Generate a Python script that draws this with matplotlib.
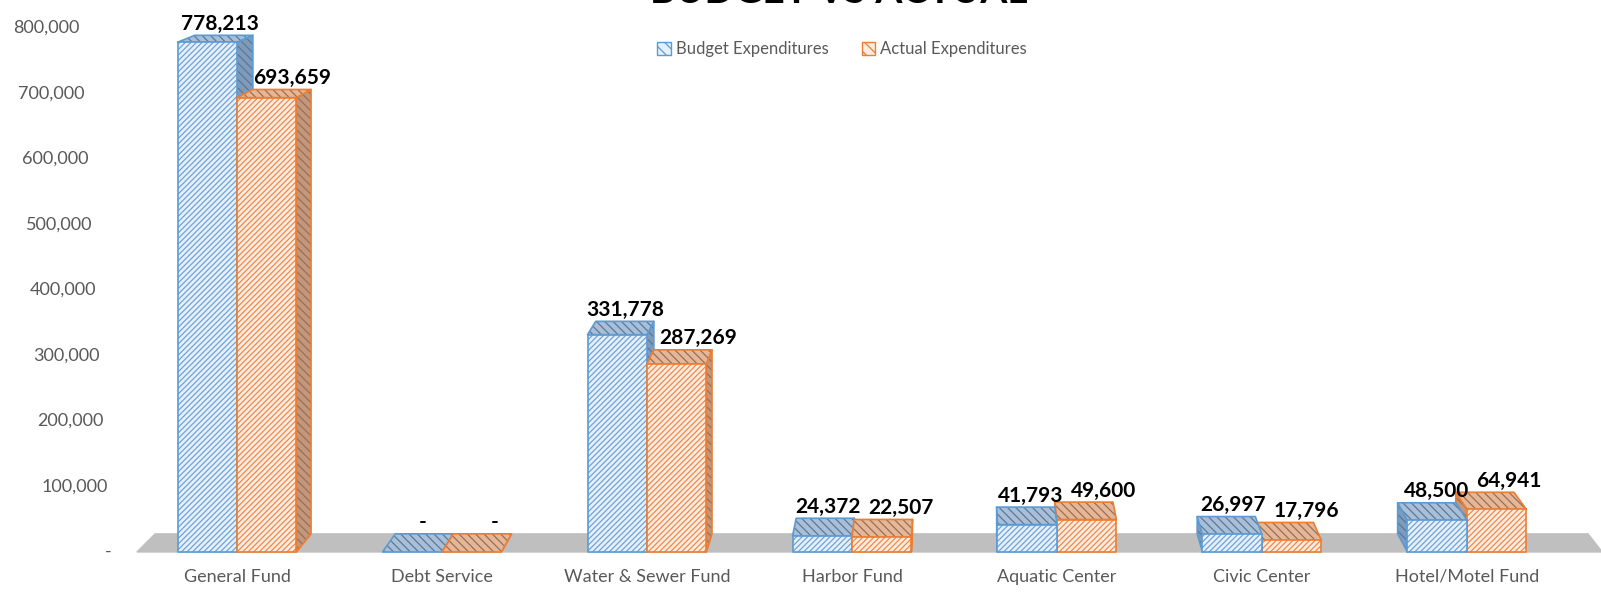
import matplotlib.pyplot as plt
import matplotlib.transforms as mtransforms
from matplotlib.patches import Polygon, Patch
import numpy as np

plt.rcParams['font.family'] = ['Lato', 'DejaVu Sans']
plt.rcParams['hatch.linewidth'] = 0.9

## data
categories = ["General Fund", "Debt Service", "Water & Sewer Fund", "Harbor Fund",
              "Aquatic Center", "Civic Center", "Hotel/Motel Fund"]
budget = [778213, 0, 331778, 24372, 41793, 26997, 48500]
actual = [693659, 0, 287269, 22507, 49600, 17796, 64941]
series_names = ["Budget Expenditures", "Actual Expenditures"]
yticks = [0, 100000, 200000, 300000, 400000, 500000, 600000, 700000, 800000]

## style per series: front fill, front hatch, top fill, top hatch, side fill, edge
styles = [
    dict(front="#E6F0FA", fhatch="#6FA3D8", top="#A9BFD8", thatch="#5D7897",
         side="#7F9BBB", edge="#5B9BD5", dx=3),
    dict(front="#FDECE1", fhatch="#EE8A4C", top="#E6B797", thatch="#97705A",
         side="#C3977B", edge="#ED7D31", dx=13),
]

fig = plt.figure(figsize=(16.01, 6.04), dpi=100)
ax = fig.add_axes([0, 0, 1, 1])
ax.set_axis_off()
ax.set_xlim(-1.156, 6.654)
ax.set_ylim(-79400, 842700)

# fake perspective: everything in the back plane is pulled toward a vanishing point
vp_x, vp_y, k = 3.53, 1258000, 0.022


def back(x, y):
    return x + k * (vp_x - x), y + k * (vp_y - y)


def face(pts, fill, hatch_col, hatch, edge, z):
    ax.add_patch(Polygon(pts, closed=True, facecolor=fill, edgecolor=hatch_col,
                         hatch=hatch, lw=0, zorder=z))
    ax.add_patch(Polygon(pts, closed=True, facecolor="none", edgecolor=edge,
                         lw=1.2, zorder=z + 0.01, joinstyle="round"))


# floor
fl, fr = -0.488, 6.66
floor = [(fl, 0), (fr, 0), back(fr, 0), back(fl, 0)]
ax.add_patch(Polygon(floor, closed=True, facecolor="#BFBFBF", edgecolor="#BFBFBF",
                     lw=1, zorder=1))

w = 0.29
boxes = []
for i in range(len(categories)):
    for s, vals in enumerate([budget, actual]):
        x0 = i - w + s * w
        boxes.append((x0, x0 + w, vals[i], s))

# painter's order: farthest from the vanishing point first
boxes.sort(key=lambda b: -abs((b[0] + b[1]) / 2 - vp_x))
for z, (x0, x1, v, s) in enumerate(boxes):
    st = styles[s]
    zz = 2 + z * 0.1
    if x1 <= vp_x:
        side = [(x1, 0), (x1, v), back(x1, v), back(x1, 0)]
        face(side, st["side"], st["thatch"], "\\\\\\\\", st["edge"], zz)
    elif x0 >= vp_x:
        side = [(x0, 0), (x0, v), back(x0, v), back(x0, 0)]
        face(side, st["side"], st["thatch"], "\\\\\\\\", st["edge"], zz)
    top = [(x0, v), (x1, v), back(x1, v), back(x0, v)]
    face(top, st["top"], st["thatch"], "\\\\\\\\", st["edge"], zz + 0.02)
    if v > 0:
        front = [(x0, 0), (x1, 0), (x1, v), (x0, v)]
        face(front, st["front"], st["fhatch"], "//////", st["edge"], zz + 0.04)

    # value label, sitting just above the back edge of the top face
    bx, by = back((x0 + x1) / 2, v)
    cx = ((x0 + x1) / 2 + bx) / 2
    txt = f"{v:,}" if v > 0 else "-"
    ax.annotate(txt, (cx, by), xytext=(st["dx"], 4), textcoords="offset points",
                ha="center", va="baseline", fontsize=15, fontweight="bold",
                color="black", zorder=10)

# y tick labels, slanted like the side wall
trans_y = mtransforms.blended_transform_factory(fig.transFigure, ax.transData)
for t in yticks:
    xr = (112 - 4 * t / 100000) / 1601
    lab = f"{t:,}" if t > 0 else "-"
    ax.text(xr, t, lab, transform=trans_y, ha="right", va="center",
            fontsize=13, color="#595959")

# category labels
trans_x = mtransforms.blended_transform_factory(ax.transData, ax.transAxes)
for i, c in enumerate(categories):
    ax.text(i, 1 - 577 / 604, c, transform=trans_x, ha="center", va="center",
            fontsize=13, color="#595959")

# title (cut off at the top edge in the original)
fig.text(0.524, 1 - 3 / 604, "BUDGET VS ACTUAL", ha="center", va="baseline",
         fontsize=28, fontweight="bold", color="black")

handles = [Patch(facecolor=st["front"], edgecolor=st["edge"], hatch="\\\\\\", lw=1)
           for st in styles]
fig.legend(handles, series_names, loc="center", bbox_to_anchor=(0.526, 1 - 49 / 604),
           ncol=2, frameon=False, fontsize=12, labelcolor="#595959",
           handlelength=0.8, handleheight=0.8, handletextpad=0.3, columnspacing=2.0)

fig.savefig("out.png", dpi=100)
